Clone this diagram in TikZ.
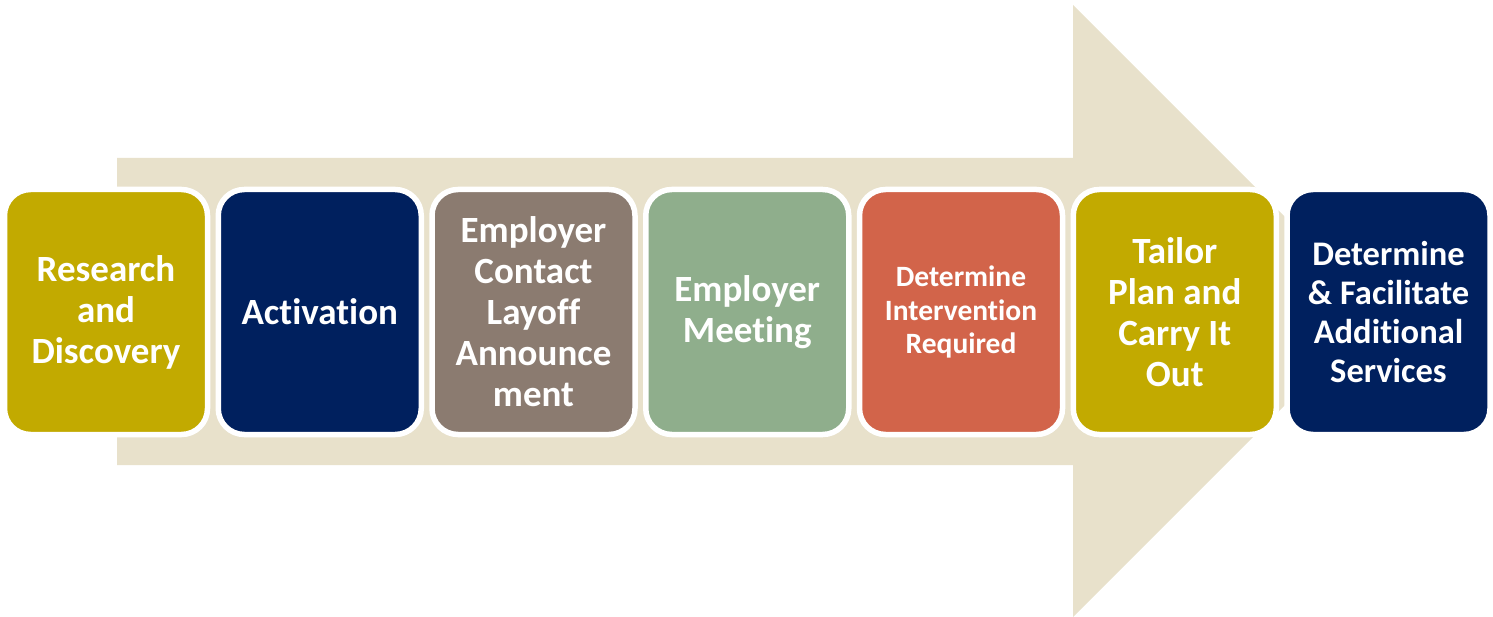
\documentclass[tikz,border=0pt]{standalone}
\usepackage{fontspec}
\setmainfont{Carlito}[Ligatures={NoCommon}]
\definecolor{beige}{HTML}{E8E1CB}
\definecolor{olive}{HTML}{C2AA00}
\definecolor{navy}{HTML}{00205E}
\definecolor{taupe}{HTML}{8B7B70}
\definecolor{sage}{HTML}{8FAE8C}
\definecolor{brick}{HTML}{D2644A}
\tikzset{
  stepbox/.style={draw=white, line width=5.5pt, rounded corners=26pt,
    minimum width=203pt, minimum height=245pt, inner sep=0pt,
    text=white, align=center,
    font=\fontsize{37}{41}\selectfont\bfseries},
  smalltext/.style={font=\fontsize{29.5}{33.5}\selectfont\bfseries},
  midtext/.style={font=\fontsize{34.5}{39}\selectfont\bfseries}
}
\begin{document}
\begin{tikzpicture}[x=1pt,y=-1pt]
\useasboundingbox (0,0) rectangle (1493,617);
% large background arrow
\fill[beige] (117,158) -- (1073,158) -- (1073,5) -- (1379,311)
  -- (1073,617) -- (1073,465) -- (117,465) -- cycle;
% process steps
\node[stepbox, fill=olive] (n1) at (106,312) {Research\\and\\Discovery};
\node[stepbox, fill=navy]  (n2) at (319.75,312) {Activation};
\node[stepbox, fill=taupe] (n3) at (533.5,312) {Employer\\Contact\\Layoff\\Announce\\ment};
\node[stepbox, fill=sage]  (n4) at (747.25,312) {Employer\\Meeting};
\node[stepbox, fill=brick, smalltext] (n5) at (961,312) {Determine\\Intervention\\Required};
\node[stepbox, fill=olive] (n6) at (1174.75,312) {Tailor\\Plan and\\Carry It\\Out};
\node[stepbox, fill=navy, midtext] (n7) at (1388.5,312) {Determine\\\& Facilitate\\Additional\\Services};
\end{tikzpicture}
\end{document}
